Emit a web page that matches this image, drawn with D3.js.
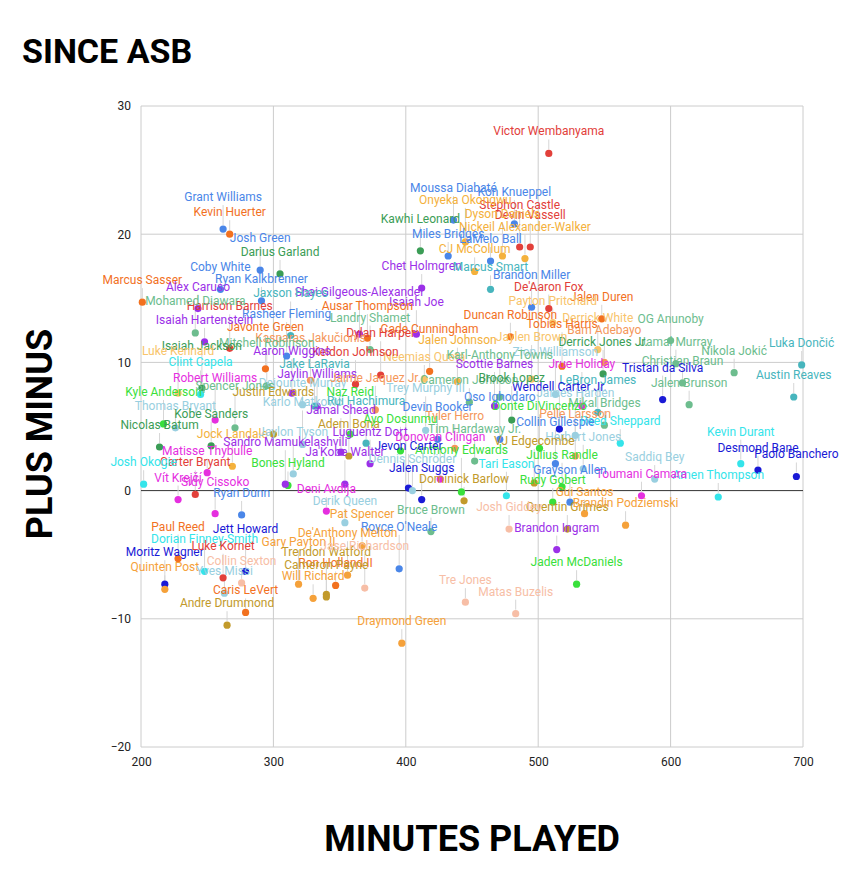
<!DOCTYPE html>
<html>
<head>
<meta charset="utf-8">
<script src="https://cdn.jsdelivr.net/npm/d3@7"></script>
<style>
body { margin: 0; background: #fff; }
</style>
</head>
<body>
<div id="chart"></div>
<script>
// players since the all-star break: minutes, plus/minus, team (team picks the colour)
const players = ["Victor Wembanyama","Grant Williams","Kevin Huerter","Moussa Diabaté","Kon Knueppel","Stephon Castle","Devin Vassell","Onyeka Okongwu","Nickeil Alexander-Walker","Kawhi Leonard","Miles Bridges","Dyson Daniels","LaMelo Ball","CJ McCollum","Josh Green","Darius Garland","Coby White","Ryan Kalkbrenner","Marcus Sasser","Alex Caruso","Chet Holmgren","Marcus Smart","Brandon Miller","De'Aaron Fox","Jalen Duren","Payton Pritchard","Isaiah Joe","Shai Gilgeous-Alexander","Duncan Robinson","Ausar Thompson","Landry Shamet","Derrick White","Bam Adebayo","Jamal Murray","OG Anunoby","Christian Braun","Nikola Jokić","Luka Dončić","Austin Reaves","Jalen Brunson","Tristan da Silva","Derrick Jones Jr.","Tobias Harris","Jaylen Brown","Zion Williamson","Jrue Holiday","LeBron James","Mikal Bridges","Wendell Carter Jr.","James Harden","Reed Sheppard","Donte DiVincenzo","Pelle Larsson","Collin Gillespie","Herbert Jones","Saddiq Bey","Kevin Durant","Desmond Bane","Paolo Banchero","Amen Thompson","Toumani Camara","Julius Randle","Rudy Gobert","VJ Edgecombe","Gui Santos","Quentin Grimes","Grayson Allen","Brandin Podziemski","Brandon Ingram","Jaden McDaniels","Matas Buzelis","Tre Jones","Draymond Green","Royce O'Neale","Bruce Brown","Tari Eason","Josh Giddey","Dominick Barlow","Anthony Edwards","Jalen Suggs","Jevon Carter","Dennis Schröder","Cade Cunningham","Jalen Johnson","Neemias Queta","Dylan Harper","Keldon Johnson","Kasparas Jakučionis","Javonte Green","Rasheer Fleming","Harrison Barnes","Jaxson Hayes","Mohamed Diawara","Isaiah Hartenstein","Mitchell Robinson","Isaiah Jackson","Luke Kennard","Clint Capela","Aaron Wiggins","Dejounte Murray","Robert Williams","Kyle Anderson","Nicolas Batum","Thomas Bryant","Spencer Jones","Justin Edwards","Jock Landale","Kobe Sanders","Karlo Matković","Jamal Shead","Adem Bona","Jaylin Williams","Jake LaRavia","Naz Reid","Rui Hachimura","Jaime Jaquez Jr.","Scottie Barnes","Cameron Johnson","Karl-Anthony Towns","Brook Lopez","Trey Murphy III","Devin Booker","Oso Ighodaro","Tyler Herro","Ayo Dosunmu","Luguentz Dort","Tim Hardaway Jr.","Donovan Clingan","Ja'Kobe Walter","Bones Hyland","Sandro Mamukelashvili","Matisse Thybulle","Jaylon Tyson","Carter Bryant","Vít Krejčí","Sidy Cissoko","Ryan Dunn","Josh Okogie","Deni Avdija","Derik Queen","Pat Spencer","Paul Reed","Dorian Finney-Smith","Jett Howard","Moritz Wagner","Quinten Post","Luke Kornet","Collin Sexton","Yves Missi","Gary Payton II","Will Richard","Trendon Watford","Ron Holland II","De'Anthony Melton","Cameron Payne","Jase Richardson","Caris LeVert","Andre Drummond"];

const minutes = [508,262,267,436,482,486,494,445,490,411,432,473,464,452,290,305,260,291,201,243,412,464,495,508,548,511,408,365,479,371,373,545,550,604,600,609,648,699,693,614,594,549,518,495,513,533,545,550,516,528,562,501,528,513,534,588,653,666,695,636,578,518,511,497,535,522,524,566,514,529,483,445,397,395,419,476,478,444,442,412,402,405,418,439,414,381,362,328,294,310,267,313,241,248,295,246,228,245,314,322,256,217,214,226,271,300,269,253,322,351,357,333,331,358,370,377,467,448,471,480,415,424,471,437,396,373,452,426,354,311,309,250,315,241,228,256,276,202,340,354,367,228,248,279,218,218,262,276,263,319,330,340,347,356,340,369,279,265];

const plusMinus = [26.3,20.4,20.0,21.1,20.8,19.0,19.0,19.4,18.1,18.7,18.3,18.3,17.9,17.1,17.2,16.9,15.7,14.8,14.7,14.2,15.8,15.7,14.3,14.2,13.4,13.1,12.2,12.2,12.0,11.9,11.0,11.0,10.0,9.9,11.7,8.4,9.2,9.8,7.3,6.7,7.1,9.1,9.7,8.7,7.5,6.6,6.1,5.1,4.8,4.3,3.7,3.3,2.7,2.1,1.7,0.9,2.1,1.6,1.1,-0.5,-0.4,0.3,-0.9,0.6,-1.8,-3.0,-0.9,-2.7,-4.6,-7.3,-9.6,-8.7,-11.9,-6.1,-3.2,-0.4,-3.0,-0.8,-0.1,-0.7,0.2,0.0,9.3,8.5,8.7,9.0,8.3,8.6,9.5,10.5,11.1,12.1,12.3,11.6,8.2,8.0,7.6,7.5,7.6,6.7,5.5,5.2,3.4,4.9,4.9,4.4,1.9,3.5,3.6,3.0,2.7,6.6,6.6,4.4,3.7,6.3,6.6,6.9,7.3,5.5,4.7,4.0,4.0,3.3,3.1,2.1,2.3,0.9,0.5,0.4,0.5,1.4,1.3,-0.3,-0.7,-1.8,-1.9,0.5,-1.6,-2.5,-4.3,-5.3,-6.3,-6.3,-7.3,-7.7,-6.8,-7.2,-8.0,-7.3,-8.4,-8.1,-7.4,-6.6,-8.3,-7.6,-9.5,-10.5];

const teams = ["SAS","CHA","DET","CHA","CHA","SAS","SAS","ATL","ATL","LAC","CHA","ATL","CHA","ATL","CHA","LAC","CHA","CHA","DET","OKC","OKC","LAL","CHA","SAS","DET","BOS","OKC","OKC","DET","DET","NYK","BOS","MIA","DEN","NYK","DEN","DEN","LAL","LAL","NYK","ORL","LAC","DET","BOS","NOP","POR","LAL","NYK","ORL","CLE","HOU","MIN","MIA","PHX","NOP","NOP","HOU","ORL","ORL","HOU","POR","MIN","MIN","PHI","GSW","PHI","PHX","GSW","TOR","MIN","CHI","CHI","GSW","PHX","DEN","HOU","CHI","PHI","MIN","ORL","ORL","CLE","DET","ATL","BOS","SAS","SAS","MIA","DET","PHX","SAS","LAL","NYK","OKC","NYK","LAC","BOS","HOU","OKC","NOP","POR","MIN","LAC","CLE","DEN","PHI","ATL","LAC","NOP","TOR","PHI","OKC","LAL","MIN","LAL","MIA","TOR","DEN","NYK","LAC","NOP","PHX","PHX","MIA","MIN","OKC","DEN","POR","TOR","MIN","TOR","POR","CLE","SAS","POR","POR","PHX","HOU","POR","NOP","GSW","DET","HOU","ORL","ORL","GSW","SAS","CHI","NOP","GSW","GSW","PHI","DET","GSW","PHI","CHI","DET","PHI"];

const teamKeys   = ["SAS","CHA","PHX","DET","ATL","LAC","OKC","TOR","LAL","BOS","MIA","NYK","DEN","ORL","NOP","CLE","POR","HOU","MIN","PHI","GSW","CHI"];
const teamColors = ["#e2403a","#4a86e8","#4a86e8","#f2711f","#f4b13c","#3b9d56","#9b30e8","#9b30e8","#47b5bd","#f8c46b","#f4975b","#6dbd8e","#6dbd8e","#1a1ad6","#99cfe0","#99cfe0","#e52fdf","#34e4ea","#39e03b","#c29a2b","#f5a13a","#f7bea6"];

const xTicks = [200, 300, 400, 500, 600, 700];
const yTicks = [-20, -10, 0, 10, 20, 30];

const width = 852, height = 876;
const font = "Roboto, 'Noto Sans', Arial, sans-serif";

const data = players.map((name, i) => ({name, min: minutes[i], pm: plusMinus[i], team: teams[i]}));

const color = d3.scaleOrdinal(teamKeys, teamColors);
const x = d3.scaleLinear([200, 700], [141, 803]);
const y = d3.scaleLinear([-20, 30], [747, 106]);

const svg = d3.select("#chart").append("svg")
	.attr("width", width)
	.attr("height", height)
	.style("font-family", font);

svg.append("rect").attr("width", width).attr("height", height).attr("fill", "#fff");

// grid
svg.append("g")
	.selectAll("line")
	.data(xTicks)
	.join("line")
	.attr("x1", d => x(d)).attr("x2", d => x(d))
	.attr("y1", y(30)).attr("y2", y(-20))
	.attr("stroke", "#cccccc");

svg.append("g")
	.selectAll("line")
	.data(yTicks)
	.join("line")
	.attr("x1", x(200)).attr("x2", x(700))
	.attr("y1", d => y(d)).attr("y2", d => y(d))
	.attr("stroke", d => d == 0 ? "#333" : "#cccccc");

// axes (labels only, the grid draws the lines)
const xAxis = svg.append("g")
	.attr("transform", `translate(0,${y(-20)})`)
	.call(d3.axisBottom(x).tickValues(xTicks).tickSize(0).tickPadding(10));
const yAxis = svg.append("g")
	.attr("transform", `translate(${x(200)},0)`)
	.call(d3.axisLeft(y).tickValues(yTicks).tickSize(0).tickPadding(10));
[xAxis, yAxis].forEach(a => {
	a.select(".domain").remove();
	a.selectAll("text").attr("font-size", 12).attr("font-family", font).attr("fill", "#222");
});

const leaders = svg.append("g");
const dots = svg.append("g");

// labels first, so their widths can be measured for placement
const label = svg.append("g")
	.selectAll("text")
	.data(data)
	.join("text")
	.attr("text-anchor", "middle")
	.attr("font-size", 12)
	.attr("fill", d => color(d.team))
	.text(d => d.name);

// greedy placement: labels of lower points go first, a label is nudged up
// (two short steps at most) when it sits badly on one already placed
let placed = [];
const overlap = (a, b) =>
	Math.max(0, Math.min(a.x1, b.x1) - Math.max(a.x0, b.x0)) *
	Math.max(0, Math.min(a.y1, b.y1) - Math.max(a.y0, b.y0));

label.each(function(d) { d.w = this.getComputedTextLength(); });
data.slice().sort((a, b) => a.pm - b.pm).forEach(d => {
	let px = x(d.min), py = y(d.pm);
	let best = null;
	for (let k = 0; k < 3; k++) {
		let cy = py - 22 - k * 10;
		let box = {x0: px - d.w / 2, x1: px + d.w / 2, y0: cy - 6, y1: cy + 6};
		let o = d3.sum(placed, b => overlap(box, b)) / (d.w * 12);
		if (best == null || o < best.o - 0.1) best = {o, cy, box};
		if (o < 0.35) break;
	}
	d.ly = best.cy;
	placed.push(best.box);
});

label.attr("x", d => x(d.min)).attr("y", d => d.ly + 4);

leaders.selectAll("line")
	.data(data)
	.join("line")
	.attr("x1", d => x(d.min)).attr("x2", d => x(d.min))
	.attr("y1", d => d.ly + 8).attr("y2", d => y(d.pm) - 4)
	.attr("stroke", "#d6d6d6")
	.attr("stroke-width", 1);

dots.selectAll("circle")
	.data(data)
	.join("circle")
	.attr("cx", d => x(d.min))
	.attr("cy", d => y(d.pm))
	.attr("r", 3.6)
	.attr("fill", d => color(d.team));

// titles
svg.append("text")
	.attr("x", 22).attr("y", 63)
	.attr("font-size", 34).attr("font-weight", "bold").attr("fill", "#000")
	.text("SINCE ASB");

svg.append("text")
	.attr("x", 472).attr("y", 851)
	.attr("text-anchor", "middle")
	.attr("font-size", 36).attr("font-weight", "bold").attr("fill", "#000")
	.text("MINUTES PLAYED");

svg.append("text")
	.attr("transform", "translate(52,434) rotate(-90)")
	.attr("text-anchor", "middle")
	.attr("font-size", 36).attr("font-weight", "bold").attr("fill", "#000")
	.text("PLUS MINUS");
</script>
</body>
</html>
